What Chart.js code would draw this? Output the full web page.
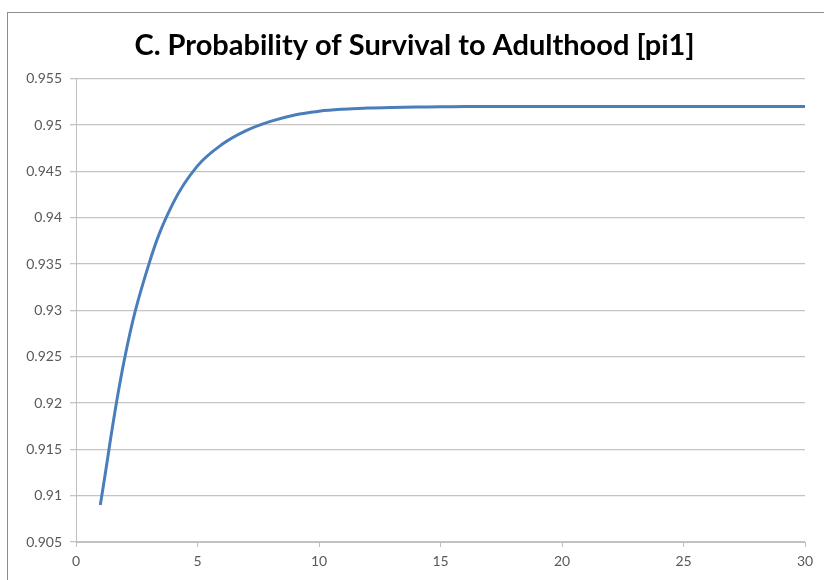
<!DOCTYPE html>
<html>
<head>
<meta charset="utf-8">
<script src="https://cdn.jsdelivr.net/npm/chart.js@4"></script>
<style>
  html, body { margin: 0; padding: 0; background: #fff; overflow: hidden; }
  #frame { position: absolute; left: 7px; top: 12px; width: 900px; height: 700px;
           border-left: 1px solid #8c8c8c; border-top: 1px solid #8c8c8c; }
  #wrap { position: absolute; left: 0; top: 0; width: 824px; height: 580px; }
</style>
</head>
<body>
<div id="frame"></div>
<div id="wrap"><canvas id="data-chart"></canvas></div>
<script>
// values
const years = [1, 2, 3, 4, 5, 6, 7, 8, 9, 10, 11, 12, 13, 14, 15,
               16, 17, 18, 19, 20, 21, 22, 23, 24, 25, 26, 27, 28, 29, 30]
const pi1 = [0.9090, 0.9248, 0.9350, 0.9416, 0.9456, 0.9479, 0.9494, 0.9504, 0.9511, 0.9515,
             0.95172, 0.95184, 0.95191, 0.95195, 0.95198, 0.952, 0.952, 0.952, 0.952, 0.952,
             0.952, 0.952, 0.952, 0.952, 0.952, 0.952, 0.952, 0.952, 0.952, 0.952]
const xTicks = [0, 5, 10, 15, 20, 25, 30]
const yTicks = [0.905, 0.91, 0.915, 0.92, 0.925, 0.93, 0.935, 0.94, 0.945, 0.95, 0.955]
const title = 'C. Probability of Survival to Adulthood [pi1]'

function generateChart() {
    let chart = document.getElementById('data-chart')
    let points = years.map((x, i) => ({ x: x, y: pi1[i] }))
    new Chart(chart, {
        type: 'line',
        data: {
            datasets: [{
                data: points,
                borderColor: '#4a7ebb',
                borderWidth: 3,
                pointRadius: 0,
                tension: 0.4,
                fill: false
            }]
        },
        options: {
            responsive: true,
            maintainAspectRatio: false,
            animation: false,
            layout: { padding: { left: 24, right: 19, top: 0, bottom: 0 } },
            scales: {
                x: {
                    type: 'linear',
                    min: xTicks[0],
                    max: xTicks[xTicks.length - 1],
                    afterBuildTicks: s => { s.ticks = xTicks.map(v => ({ value: v })) },
                    afterFit: s => { s.height = 38 },
                    grid: { drawOnChartArea: false, drawTicks: true, tickLength: 5, color: '#bfbfbf' },
                    border: { color: '#bfbfbf' },
                    ticks: { color: '#595959', font: { family: 'Lato', size: 14 }, padding: 6 }
                },
                y: {
                    min: yTicks[0],
                    max: yTicks[yTicks.length - 1],
                    afterBuildTicks: s => { s.ticks = yTicks.map(v => ({ value: v })) },
                    afterFit: s => { s.width = 52 },
                    grid: { color: '#c4c4c4', lineWidth: 1.3, tickLength: 6 },
                    border: { color: '#bfbfbf' },
                    ticks: {
                        color: '#595959',
                        font: { family: 'Lato', size: 14 },
                        padding: 8,
                        callback: v => String(+v.toFixed(3))
                    }
                }
            },
            plugins: {
                legend: { display: false },
                tooltip: { enabled: false },
                title: {
                    display: true,
                    text: title,
                    color: '#000',
                    font: { family: 'Lato', size: 29, weight: 'bold' },
                    padding: { top: 28, bottom: 16 }
                }
            }
        }
    })
}

generateChart()
</script>
</body>
</html>
